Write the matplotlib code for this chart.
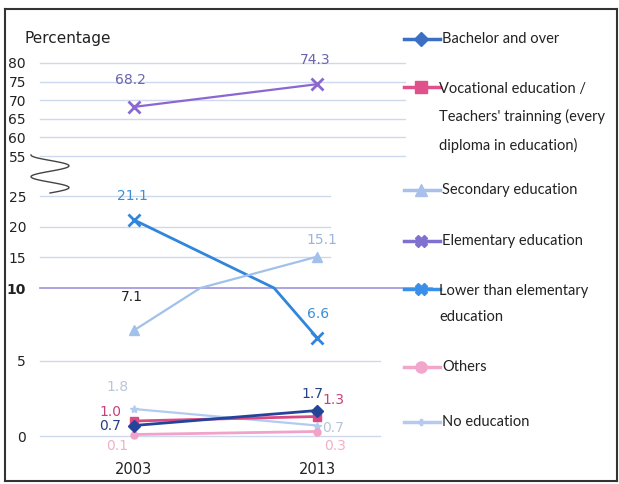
import matplotlib
matplotlib.use("Agg")
import matplotlib.pyplot as plt
from matplotlib.lines import Line2D
import numpy as np

W, H = 619, 484

YEARS = ["2003", "2013"]
SERIES = [
    "Bachelor and over",
    "Vocational education /\nTeachers' trainning (every\ndiploma in education)",
    "Secondary education",
    "Elementary education",
    "Lower than elementary\neducation",
    "Others",
    "No education",
]
BACHELOR = [0.7, 1.7]
VOCATIONAL = [1.0, 1.3]
SECONDARY = [7.1, 15.1]
ELEMENTARY = [68.2, 74.3]
LOWER = [21.1, 6.6]
OTHERS = [0.1, 0.3]
NO_EDU = [1.8, 0.7]
VALUES = [BACHELOR, VOCATIONAL, SECONDARY, ELEMENTARY, LOWER, OTHERS, NO_EDU]
YTICKS = [0, 5, 10, 15, 20, 25, 55, 60, 65, 70, 75, 80]

# broken axis: value -> pixel height above the 0 line
BREAK_VALS = [0, 5, 10, 25, 55, 80]
BREAK_PX = [0, 75, 148, 240, 280, 373]

STYLE = [
    # line color, marker, marker size, line width, label colors, label offsets (px)
    ("#24449a", "D", 6, 2.0, ["#24408a", "#24408a"], [(-24, -1), (-5, 17)]),
    ("#d94a84", "s", 6, 2.0, ["#c8407a", "#c8407a"], [(-24, 9), (16, 17)]),
    ("#a2c1ea", "^", 7, 1.6, ["#222222", "#9ab4dc"], [(-2, 33), (5, 17)]),
    ("#8a68d0", "x", 8, 1.6, ["#6a64b0", "#6a64b0"], [(-4, 27), (-2, 24)]),
    ("#2f86dc", "x", 8, 2.0, ["#3a8fd8", "#3a8fd8"], [(-2, 24), (1, 24)]),
    ("#f2a2c8", "o", 5, 2.0, ["#f0b0c8", "#f0b0c8"], [(-17, -11), (18, -15)]),
    ("#b3cbee", "*", 6, 1.6, ["#b8c4d8", "#b8c4d8"], [(-17, 22), (16, -2)]),
]

LEGEND_Y = [39, 87, 190, 241, 289, 367, 422]
LEGEND_MARKERS = [("D", 7), ("s", 9), ("^", 8), ("X", 8), ("X", 8), ("o", 8), ("P", 5)]
LEGEND_COLORS = ["#3b6fc4", "#e0508a", "#a9c0ec", "#8070d0", "#3a8fe8", "#f2a6cc", "#b7c9ee"]


def fwd(v):
    return np.interp(v, BREAK_VALS, BREAK_PX)


def inv(p):
    return np.interp(p, BREAK_PX, BREAK_VALS)


def _with_breaks(x, y):
    # add vertices where a segment crosses an axis break so it bends like the original
    xs, ys = [x[0]], [y[0]]
    for i in range(len(x) - 1):
        x0, x1, y0, y1 = x[i], x[i + 1], y[i], y[i + 1]
        for b in BREAK_VALS[1:-1]:
            if (y0 - b) * (y1 - b) < 0:
                t = (b - y0) / (y1 - y0)
                xs.append(x0 + t * (x1 - x0))
                ys.append(b)
        xs.append(x1)
        ys.append(y1)
    order = np.argsort(xs)
    return np.array(xs)[order], np.array(ys)[order]


def fx(px):
    return np.asarray(px) / W


def fy(py):
    return 1 - np.asarray(py) / H


fig = plt.figure(figsize=(W / 100, H / 100), dpi=100)
x0_px, x1_px = 40, 410
ax = fig.add_axes([fx(x0_px), fy(436), (x1_px - x0_px) / W, (436 - 63) / H])
ax.set_yscale("function", functions=(fwd, inv))
ax.set_ylim(0, 80)
# category 0 at x=134 px, category 1 at x=317 px
px_per = 317 - 134
ax.set_xlim((x0_px - 134) / px_per, (x1_px - 134) / px_per)
for s in ax.spines.values():
    s.set_visible(False)
ax.patch.set_alpha(0)

# gridlines of varying length
grid_ends = {80: 405, 75: 405, 70: 405, 65: 405, 60: 405, 55: 405,
             25: 330, 20: 330, 15: 330, 10: 432, 5: 380, 0: 380}
for v in YTICKS:
    xe = (grid_ends[v] - 134) / px_per
    col, lw = ("#a69de0", 1.3) if v == 10 else ("#cfd9ee", 1.0)
    ax.plot([ax.get_xlim()[0], xe], [v, v], color=col, lw=lw, clip_on=False, zorder=1)

ax.set_yticks(YTICKS)
ax.set_yticklabels([str(v) for v in YTICKS], fontsize=10, color="#222222")
for lab in ax.get_yticklabels():
    if lab.get_text() == "10":
        lab.set_fontweight("bold")
ax.set_xticks([0, 1])
ax.set_xticklabels(YEARS, fontsize=10.5, color="#222222")
ax.tick_params(axis="y", length=0, pad=10)
ax.tick_params(axis="x", length=0, pad=19)

xs = np.array([0.0, 1.0])
order = [4, 2, 3, 6, 5, 1, 0]
for i in order:
    color, mk, ms, lw, lcols, offs = STYLE[i]
    vals = VALUES[i]
    lx, ly = _with_breaks(xs, np.array(vals, dtype=float))
    ax.plot(lx, ly, color=color, lw=lw, zorder=3, clip_on=False)
    ax.plot(xs, vals, ls="none", marker=mk, ms=ms, color=color,
            mew=2 if mk == "x" else 1, zorder=4, clip_on=False)
    for j, v in enumerate(vals):
        ax.annotate(f"{v:.1f}", (xs[j], v), xytext=offs[j], textcoords="offset pixels",
                    ha="center", va="center", fontsize=10, color=lcols[j], zorder=5)

fig.text(fx(25), fy(38), "Percentage", fontsize=11, color="#222222", va="center", ha="left")

# broken-axis squiggle
t = np.linspace(0, 1, 80)
sq_x = 50 - 19 * np.cos(2 * np.pi * 1.75 * t)
sq_y = 155 + 38 * t
fig.add_artist(Line2D(fx(sq_x), fy(sq_y), transform=fig.transFigure, color="#444444", lw=1.0))

# legend drawn by hand on the right
for label, ly, (mk, ms), col in zip(SERIES, LEGEND_Y, LEGEND_MARKERS, LEGEND_COLORS):
    fig.add_artist(Line2D([fx(404), fx(440)], [fy(ly), fy(ly)], transform=fig.transFigure,
                          color=col, lw=2.5))
    fig.add_artist(Line2D([fx(421)], [fy(ly)], transform=fig.transFigure, color=col,
                          marker=mk, ms=ms, ls="none"))
    if "\n" in label:
        fig.text(fx(439), fy(ly - 5), label, fontsize=10.5, family="Lato", color="#222222",
                 va="top", ha="left", linespacing=2.1)
    else:
        fig.text(fx(442), fy(ly), label, fontsize=10.5, family="Lato", color="#222222",
                 va="center", ha="left")

# scanned-page frame
frame = dict(transform=fig.transFigure, color="#333333", lw=1.5)
fig.add_artist(Line2D([fx(5), fx(617)], [fy(9), fy(9)], **frame))
fig.add_artist(Line2D([fx(5), fx(5)], [fy(9), fy(481)], **frame))
fig.add_artist(Line2D([fx(5), fx(617)], [fy(481), fy(481)], **frame))
fig.add_artist(Line2D([fx(617), fx(617)], [fy(9), fy(481)], **frame))

fig.savefig("out.png", dpi=100)
